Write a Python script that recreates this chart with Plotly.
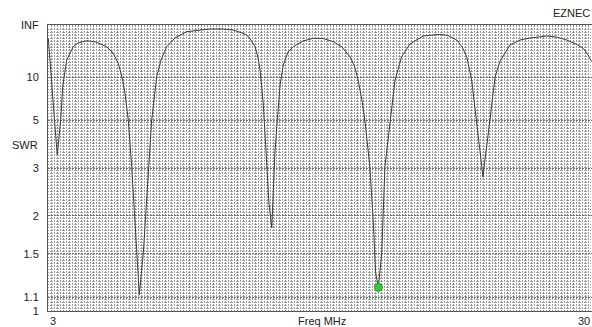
import plotly.graph_objects as go

# Frequency (MHz) and SWR
freq_mhz = [3.015, 3.186, 3.353, 3.468, 3.640, 3.740, 3.942, 4.274, 4.511, 4.949,
            5.418, 5.957, 6.274, 6.541, 6.727, 6.878, 7.045, 7.216, 7.382, 7.518,
            7.599, 7.800, 8.052, 8.223, 8.475, 8.692, 8.979, 9.397, 9.986, 10.56,
            11.16, 11.77, 12.32, 12.72, 13.01, 13.22, 13.43, 13.58, 13.68, 13.84,
            13.98, 14.13, 14.27, 14.35, 14.43, 14.55, 14.69, 14.85, 15.09, 15.36,
            15.84, 16.36, 16.85, 17.37, 17.81, 18.21, 18.43, 18.62, 18.81, 18.96,
            19.21, 19.38, 19.50, 19.64, 19.81, 19.97, 20.23, 20.48, 20.81, 21.23,
            21.90, 22.74, 23.14, 23.59, 23.86, 24.09, 24.34, 24.59, 24.85, 24.90,
            25.06, 25.26, 25.52, 25.77, 26.27, 26.78, 27.28, 28.12, 28.59, 29.13,
            29.59, 29.96, 30.20, 30.38]
swr = [42.0, 8.27, 4.62, 3.40, 5.02, 8.27, 15.3, 25.4, 30.8, 35.4,
       32.6, 25.4, 19.4, 13.9, 10.0, 7.37, 5.02, 3.04, 1.93, 1.30,
       1.12, 1.51, 3.04, 5.02, 10.06, 15.3, 25.4, 43.0, 84.4, 113,
       142, 142, 113, 75.3, 56.2, 37.1, 25.4, 16.3, 11.7, 6.33,
       3.47, 2.21, 1.82, 2.40, 3.47, 5.02, 8.53, 13.3, 20.2, 25.4,
       34.8, 42.0, 41.4, 33.3, 25.0, 17.0, 13.0, 9.40, 6.63, 5.02,
       3.04, 1.93, 1.31, 1.18, 1.51, 3.04, 5.02, 9.40, 17.0, 29.1,
       51.0, 60.5, 53.5, 37.1, 25.0, 17.0, 9.40, 5.02, 3.04, 2.76,
       3.47, 5.02, 10.06, 14.9, 27.6, 37.1, 43.0, 51.0, 46.7, 37.1,
       29.1, 23.5, 18.1, 14.6]

marker_freq = [19.64]
marker_swr = [1.18]

swr_ticks = [None, 10, 5, 3, 2, 1.5, 1.1, 1]   # None = infinity
swr_tick_text = ["INF", "10", "5", "3", "2", "1.5", "1.1", "1"]
x_tick_vals = [3, 30]
x_tick_text = ["3", "30"]


def rho(s):
    if s is None:
        return 1.0
    return (s - 1.0) / (s + 1.0)


FONT = "Liberation Sans, Arial, sans-serif"
TXT = dict(family=FONT, size=11, color="#222222")

X_RANGE = [3, 30.4]
PLOT_W, PLOT_H = 544, 286
GRID_PX = 3
x_minor = GRID_PX * (X_RANGE[1] - X_RANGE[0]) / PLOT_W
y_minor = GRID_PX / PLOT_H

fig = go.Figure()
fig.add_trace(go.Scatter(
    x=freq_mhz, y=[rho(s) for s in swr], mode="lines",
    line=dict(color="#3a3a3a", width=1), hoverinfo="skip", showlegend=False))
fig.add_trace(go.Scatter(
    x=marker_freq, y=[rho(s) for s in marker_swr], mode="markers",
    marker=dict(color="#33cc33", size=8, line=dict(color="#229922", width=1)),
    hoverinfo="skip", showlegend=False))

fig.update_xaxes(
    range=X_RANGE, showgrid=False, zeroline=False, showticklabels=False,
    ticks="", showline=True, linecolor="#555555", linewidth=1, mirror=True,
    automargin=False,
    minor=dict(dtick=x_minor, tick0=3, showgrid=True, gridcolor="#909090",
               griddash="2px,1px", gridwidth=1, ticks=""))
fig.update_yaxes(
    range=[0, 1], tickmode="array", tickvals=[rho(s) for s in swr_ticks],
    ticktext=swr_tick_text, showgrid=True, gridcolor="#6e6e6e",
    griddash="2px,1px", gridwidth=1, zeroline=False, ticks="",
    ticklabelstandoff=6, tickfont=TXT, automargin=False,
    showline=True, linecolor="#555555", linewidth=1, mirror=False,
    minor=dict(dtick=y_minor, tick0=0, showgrid=True, gridcolor="#a8a8a8",
               griddash="1px,1px", gridwidth=1, ticks=""))

annotations = []
# "3" starts at its tick; "30" is kept inside the page at the right edge
annotations.append(dict(x=x_tick_vals[0], y=0, xref="x", yref="paper",
                        text=x_tick_text[0], showarrow=False, xanchor="left",
                        yanchor="top", xshift=0, yshift=-2, font=TXT))
annotations.append(dict(x=1, y=0, xref="paper", yref="paper",
                        text=x_tick_text[1], showarrow=False, xanchor="right",
                        yanchor="top", xshift=0, yshift=-2, font=TXT))
annotations.append(dict(x=0.5, y=0, xref="paper", yref="paper", text="Freq MHz",
                        showarrow=False, xanchor="center", yanchor="top",
                        xshift=2, yshift=-2, font=TXT))
annotations.append(dict(x=0, y=(311 - 145) / 286, xref="paper", yref="paper",
                        text="SWR", showarrow=False, xanchor="left",
                        yanchor="middle", xshift=-38, font=TXT))
annotations.append(dict(x=1, y=1, xref="paper", yref="paper", text="EZNEC",
                        showarrow=False, xanchor="right", yanchor="bottom",
                        xshift=0, yshift=4, font=TXT))

fig.update_layout(
    width=592, height=327,
    margin=dict(l=48, r=0, t=25, b=16, autoexpand=False),
    paper_bgcolor="white", plot_bgcolor="white",
    font=TXT, showlegend=False, annotations=annotations,
    hovermode=False,
)

fig.write_html("out.html",
               config=dict(displayModeBar=False, staticPlot=True),
               post_script="document.body.style.margin='0';"
                           "document.body.style.overflow='hidden';")
